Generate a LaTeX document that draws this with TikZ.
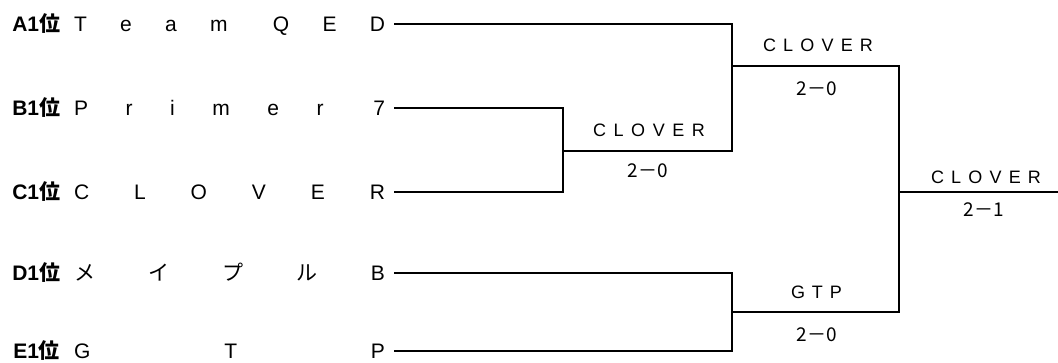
\documentclass[tikz,border=0pt]{standalone}
\usepackage{fontspec}
\setmainfont{Liberation Sans}
\newfontfamily\jp{Noto Sans CJK JP}
\tikzset{every picture/.style={line width=2.6pt}}
\newcommand{\spread}[2]{\makebox[#1][s]{#2}}

\begin{document}
\begin{tikzpicture}[x=1pt,y=1pt,yscale=-1,xscale=1,
  rank/.style={anchor=west,inner sep=0pt,text height=15pt,text depth=0pt,font=\bfseries\fontsize{21}{21}\selectfont},
  team/.style={anchor=east,inner sep=0pt,outer xsep=9pt,text height=15pt,text depth=0pt,font=\fontsize{21}{21}\selectfont},
  winner/.style={inner sep=0pt,text height=12.9pt,text depth=0pt,font=\fontsize{18}{18}\selectfont},
  score/.style={inner sep=0pt,text height=14pt,text depth=0pt,font=\jp\fontsize{19}{19}\selectfont}]
\useasboundingbox (0,0) rectangle (1058,363);

% Text Node
\node[rank] (rA) at (11,24) {A1{\jp 位}};
\node[rank] (rB) at (11,108) {B1{\jp 位}};
\node[rank] (rC) at (11,192) {C1{\jp 位}};
\node[rank] (rD) at (11,273) {D1{\jp 位}};
\node[rank] (rE) at (12,351) {E1{\jp 位}};
% Text Node
\node[team] (tA) at (394,24) {\spread{311pt}{T\hfill e\hfill a\hfill m\hfill\hspace{12pt}Q\hfill E\hfill D}};
\node[team] (tB) at (394,108) {\spread{311pt}{P\hfill r\hfill i\hfill m\hfill e\hfill r\hfill\hspace{12pt}7}};
\node[team] (tC) at (394,192) {\spread{311pt}{C\hfill L\hfill O\hfill V\hfill E\hfill R}};
\node[team] (tD) at (394,273) {\spread{311pt}{{\jp メ}\hfill{\jp イ}\hfill{\jp プ}\hfill{\jp ル}\hfill B}};
\node[team] (tE) at (394,351) {\spread{311pt}{G\hfill T\hfill P}};

\coordinate (jBC) at (563,151);
\coordinate (jS1) at (732,66);
\coordinate (jS2) at (732,312);
\coordinate (jF) at (899,192);
\coordinate (champ) at (1058,192);

% Bracket Lines
\draw (tB.east) -| (jBC) |- (tC.east);
\draw (tA.east) -| (jS1) |- (jBC);
\draw (tD.east) -| (jS2) |- (tE.east);
\draw (jS1) -| (jF) |- (jS2);
\draw (jF) -- (champ);

% Text Node
\node[winner] (wBC) at (649,130.5) {\spread{112pt}{C\hfill L\hfill O\hfill V\hfill E\hfill R}};
\node[score] (sBC) at (647.5,171) {2－0};
\node[winner] (wS1) at (818,45.5) {\spread{110pt}{C\hfill L\hfill O\hfill V\hfill E\hfill R}};
\node[score] (sS1) at (816.5,88.5) {2－0};
\node[winner] (wS2) at (816.5,292.5) {\spread{51pt}{G\hfill T\hfill P}};
\node[score] (sS2) at (816.5,334.5) {2－0};
\node[winner] (wF) at (986,177) {\spread{110pt}{C\hfill L\hfill O\hfill V\hfill E\hfill R}};
\node[score] (sF) at (983.5,210) {2－1};

\end{tikzpicture}
\end{document}
